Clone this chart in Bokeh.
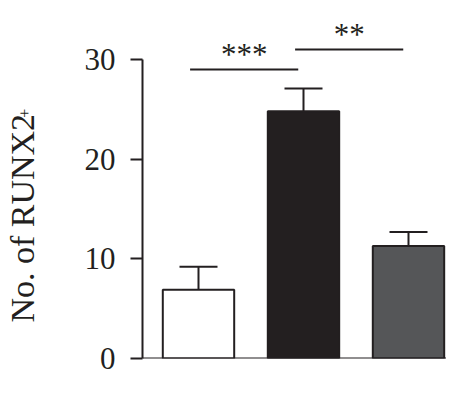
import math
from bokeh.plotting import figure
from bokeh.layouts import row
from bokeh.models import ColumnDataSource, Whisker, TeeHead, Span, FixedTicker, Range1d
from bokeh.core.properties import value
from bokeh.embed import file_html
from bokeh.resources import INLINE

# ---- data ----
groups = ["Group 1", "Group 2", "Group 3"]
means = [6.9, 24.8, 11.3]
errors = [2.3, 2.3, 1.4]
bar_colors = ["#ffffff", "#231f20", "#555658"]
y_ticks = [0, 10, 20, 30]
comparisons = [(0, 1), (1, 2)]
comp_heights = [29.0, 31.0]
comp_labels = ["***", "**"]
y_label = "No. of RUNX2"
y_label_sup = "+"

DARK = "#231f20"
FONT = "Liberation Serif"

xs = [i + 1 for i in range(len(groups))]
src = ColumnDataSource(dict(
    x=xs, top=means, upper=[m + e for m, e in zip(means, errors)],
    color=bar_colors,
))

W_LAB = 60
H = 378
TOP, BOTTOM = 8, 20
yr = Range1d(0, 35.12)
X0 = 0.4667

# ---- main chart ----
p = figure(width=446 - W_LAB, height=H, x_range=Range1d(X0, X0 + 304 / 105), y_range=yr,
           x_axis_location=None, toolbar_location=None, output_backend="svg",
           min_border_left=142 - W_LAB, min_border_right=0,
           min_border_top=TOP, min_border_bottom=BOTTOM)
p.title.visible = False
p.outline_line_color = None
p.grid.visible = False

wh = Whisker(source=src, base="x", upper="upper", lower="top",
             upper_head=TeeHead(size=38, line_color=DARK, line_width=2),
             lower_head=None, line_color=DARK, line_width=2)
p.add_layout(wh)

p.vbar(x="x", top="top", width=0.68, bottom=0, source=src,
       fill_color="color", line_color=DARK, line_width=2)

p.add_layout(Span(location=0, dimension="width", line_color=DARK, line_width=2))

x0 = [xs[a] - 0.08 for a, b in comparisons]
x1 = [xs[b] - 0.05 for a, b in comparisons]
p.segment(x0=x0, x1=x1, y0=comp_heights, y1=comp_heights, line_color=DARK, line_width=2)
p.text(x=[(u + v) / 2 for u, v in zip(x0, x1)], y=[h + 1.5 for h in comp_heights],
       text=comp_labels, text_align="center", text_baseline="alphabetic",
       text_font=value(FONT), text_font_size="31px", text_color=DARK)

ax = p.yaxis[0]
ax.bounds = (0, 30)
ax.ticker = FixedTicker(ticks=y_ticks)
ax.axis_line_color = DARK
ax.axis_line_width = 2
ax.major_tick_line_color = DARK
ax.major_tick_line_width = 2
ax.major_tick_out = 12
ax.major_tick_in = 0
ax.minor_tick_line_color = None
ax.major_label_text_font = FONT
ax.major_label_text_font_size = "31px"
ax.major_label_text_color = DARK
ax.major_label_standoff = 15

# ---- y-axis title strip (shares the y range) ----
lab = figure(width=W_LAB, height=H, x_range=Range1d(0, W_LAB), y_range=yr,
             x_axis_location=None, y_axis_location=None, toolbar_location=None,
             output_backend="svg", min_border_left=0, min_border_right=0,
             min_border_top=TOP, min_border_bottom=BOTTOM)
lab.title.visible = False
lab.outline_line_color = None
lab.grid.visible = False
lab.text(x=[22], y=[3.6], text=[y_label], angle=math.pi / 2,
         text_align="left", text_baseline="alphabetic",
         text_font=value(FONT), text_font_size="34px", text_color=DARK)
lab.text(x=[24], y=[24.6], text=[y_label_sup], angle=math.pi / 2,
         text_align="center", text_baseline="alphabetic",
         text_font=value(FONT), text_font_size="16px", text_color=DARK)

layout = row(lab, p)
open("out.html", "w").write(file_html(layout, INLINE))
